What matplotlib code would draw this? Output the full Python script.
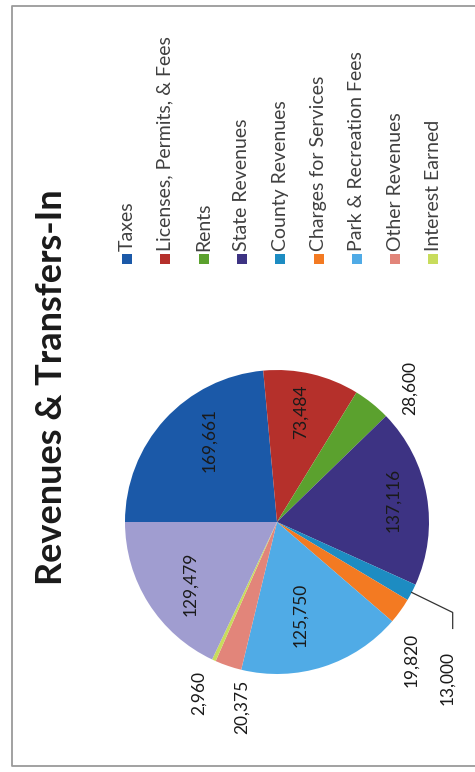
"""
Revenues & Transfers-In pie chart (scanned page, turned 90 degrees).
Everything is drawn rotated: text reads bottom to top.
"""

import numpy as np
import matplotlib.pyplot as plt
from matplotlib.patches import Rectangle

plt.rcParams['font.family'] = ['Lato', 'DejaVu Sans']

W, H = 475, 772

# ── Data ─────────────────────────────────────────────────────────────────────
categories = ['Taxes', 'Licenses, Permits, & Fees', 'Rents', 'State Revenues',
              'County Revenues', 'Charges for Services', 'Park & Recreation Fees',
              'Other Revenues', 'Interest Earned', 'Transfers-In']
values = [169661, 73484, 28600, 137116, 13000, 19820, 125750, 20375, 2960, 129479]
value_labels = ['169,661', '73,484', '28,600', '137,116', '13,000', '19,820',
                '125,750', '20,375', '2,960', '129,479']
n_legend = 9  # last category is not in the visible legend

colors = ['#1b59a8', '#b5302b', '#5ba12e', '#3d3383', '#1d8cc2', '#f37a22',
          '#50abe6', '#e2857a', '#c8dc5c', '#a09dd0']

# label placement: (radius factor, angle nudge in deg)
label_pos = [(0.70, -8), (0.74, 1), (1.24, -6), (0.78, 1), (1.52, -15),
             (1.27, -10), (0.63, -4), (1.24, 8), (1.24, 0), (0.70, 3)]

# ── Figure ───────────────────────────────────────────────────────────────────
fig = plt.figure(figsize=(W / 100, H / 100), dpi=100)
ax = fig.add_axes([0, 0, 1, 1])

cx, cy, R = 277, H - 522, 152
wedges, _ = ax.pie(values, colors=colors, startangle=180, counterclock=False,
                   center=(cx, cy), radius=R, wedgeprops=dict(linewidth=0))

for i, w in enumerate(wedges):
    mid = np.deg2rad((w.theta1 + w.theta2) / 2 + label_pos[i][1])
    r = R * label_pos[i][0]
    x, y = cx + r * np.cos(mid), cy + r * np.sin(mid)
    ax.text(x, y, value_labels[i], rotation=90, ha='center', va='center',
            fontsize=12.5, color='#1a1a1a')

# leader line for the small County Revenues slice
w = wedges[4]
m = np.deg2rad((w.theta1 + w.theta2) / 2)
x0, y0 = cx + R * np.cos(m), cy + R * np.sin(m)
ax.plot([x0, x0 + 41, x0 + 41], [y0, y0 - 20, y0 - 36], color='#333333', lw=0.9)

# legend, drawn rotated by hand
lx0, dx, ly = 127, 38.3, H - 259
for i in range(n_legend):
    x = lx0 + i * dx
    ax.add_patch(Rectangle((x - 5, ly - 5), 10, 10, color=colors[i], lw=0))
    ax.text(x, ly + 8, categories[i], rotation=90, ha='center', va='bottom',
            fontsize=14, color='#404040')

# title
ax.text(52, H - 387, 'Revenues & Transfers-In', rotation=90, ha='center',
        va='center', fontsize=26, fontweight='bold', color='#1a1a1a')

# chart frame from the scan
ax.plot([W, 12, 12, W], [H - 6, H - 6, H - 766, H - 766], color='#9a9a9a', lw=1.3)

ax.set_xlim(0, W)
ax.set_ylim(0, H)
ax.set_aspect('equal')
ax.axis('off')

plt.savefig('out.png', dpi=100)
plt.close()
